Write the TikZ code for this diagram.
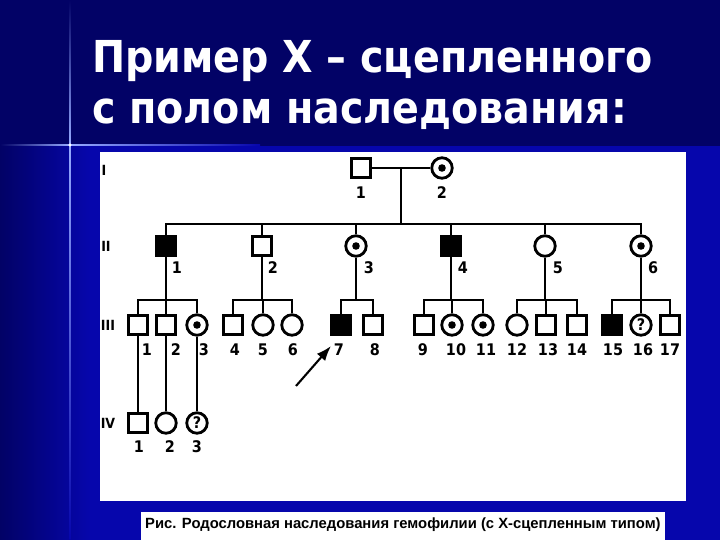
\documentclass[tikz,border=0pt]{standalone}
\usepackage{fontspec}
\newfontfamily\headfont{DejaVu Sans Condensed}
\newfontfamily\capfont{Liberation Sans}
\usepackage{tikz}
\usetikzlibrary{arrows.meta}
\definecolor{slidenavy}{RGB}{2,2,102}
\definecolor{slideblue}{RGB}{6,6,172}
\definecolor{flare}{RGB}{150,170,255}
\tikzstyle{person} = [draw,
                      line width=2.3pt,
                      inner sep=0pt]
\tikzstyle{male}   = [person, rectangle, minimum size=19pt]
\tikzstyle{female} = [person, circle, line width=2.8pt, minimum size=20.5pt]
\tikzstyle{ill}    = [fill=black]
\tikzstyle{carrier}= [female,
                      path picture={\fill[black] (path picture bounding box.center) circle (3.8pt);}]
\tikzstyle{unknown}= [female, font=\headfont\bfseries\fontsize{16}{16}\selectfont]
\tikzstyle{num}    = [inner sep=0pt, font=\headfont\bfseries\fontsize{16}{16}\selectfont]
\tikzstyle{gen}    = [inner sep=0pt, font=\headfont\bfseries\fontsize{14}{14}\selectfont]
\tikzstyle{title}  = [inner sep=0pt, text=white, font=\headfont\bfseries\fontsize{44}{44}\selectfont]
\tikzstyle{line}   = [line width=2.1pt]
\tikzstyle{arrow}  = [-{Latex[length=15pt,width=11pt]},
                      line width=2.1pt]

\begin{document}
\begin{tikzpicture}[x=1pt,y=-1pt]

  % Slide
  \fill[slidenavy] (0,0) rectangle (720,540);
  \fill[slideblue] (0,146) rectangle (720,540);
  \shade[left color=slidenavy, right color=slideblue] (0,146) rectangle (90,540);
  \shade[top color=slidenavy, bottom color=flare] (69.4,0) rectangle (70.6,145);
  \shade[top color=flare, bottom color=slideblue] (69.4,145) rectangle (70.6,540);
  \shade[left color=slidenavy, right color=flare] (0,144.4) rectangle (70,145.6);
  \shade[left color=flare, right color=slideblue] (70,144.4) rectangle (260,145.6);
  \fill[white] (70,145) circle (1.6pt);
  \fill[white] (100,152) rectangle (686,501);
  \fill[white] (141,512) rectangle (665,540);

  % Titles
  \node[title, anchor=base west] (title1) at (92,73) {Пример X – сцепленного};
  \node[title, anchor=base west] (title2) at (92,124) {с полом наследования:};
  \node[anchor=base west, inner sep=0pt, font=\capfont\bfseries\fontsize{14.8}{15}\selectfont]
    (caption) at (145,528) {Рис. Родословная наследования гемофилии (с X-сцепленным типом)};

  % Generations
  \node[gen] (g1) at (104,170) {I};
  \node[gen] (g2) at (106,246) {II};
  \node[gen] (g3) at (108,325) {III};
  \node[gen] (g4) at (108,423) {IV};

  % Nodes
  \node[male] (i1) at (361,168) {};
  \node[carrier] (i2) at (442,168) {};

  \node[male, ill] (ii1) at (166,246) {};
  \node[male] (ii2) at (262,246) {};
  \node[carrier] (ii3) at (356,246) {};
  \node[male, ill] (ii4) at (451,246) {};
  \node[female] (ii5) at (545,246) {};
  \node[carrier] (ii6) at (641,246) {};

  \node[male] (iii1) at (138,325) {};
  \node[male] (iii2) at (166,325) {};
  \node[carrier] (iii3) at (197,325) {};
  \node[male] (iii4) at (233,325) {};
  \node[female] (iii5) at (263,325) {};
  \node[female] (iii6) at (292,325) {};
  \node[male, ill] (iii7) at (341,325) {};
  \node[male] (iii8) at (373,325) {};
  \node[male] (iii9) at (424,325) {};
  \node[carrier] (iii10) at (452,325) {};
  \node[carrier] (iii11) at (483,325) {};
  \node[female] (iii12) at (517,325) {};
  \node[male] (iii13) at (546,325) {};
  \node[male] (iii14) at (577,325) {};
  \node[male, ill] (iii15) at (612,325) {};
  \node[unknown] (iii16) at (641,325) {?};
  \node[male] (iii17) at (670,325) {};

  \node[male] (iv1) at (138,423) {};
  \node[female] (iv2) at (166,423) {};
  \node[unknown] (iv3) at (197,423) {?};

  % Numbers
  \node[num] (n1-1) at (361,193) {1};
  \node[num] (n1-2) at (442,193) {2};
  \foreach \n/\x in {1/177,2/273,3/369,4/463,5/558,6/653}
    \node[num] (n2-\n) at (\x,268) {\n};
  \foreach \n/\x in {1/147,2/176,3/204,4/235,5/263,6/293,7/339,8/375,9/423,
                     10/456,11/486,12/517,13/548,14/577,15/613,16/643,17/670}
    \node[num] (n3-\n) at (\x,350) {\n};
  \foreach \n/\x in {1/139,2/170,3/197}
    \node[num] (n4-\n) at (\x,447) {\n};

  % Edges
  \coordinate (m1) at (401,168);
  \coordinate (s2) at (401,224);
  \draw[line] (i1) -- (i2);
  \draw[line] (m1) -- (s2);
  \foreach \k in {1,...,6}
    \draw[line] (s2) -| (ii\k);

  \coordinate (f1) at (166,300);
  \coordinate (f2) at (262,300);
  \coordinate (f3) at (356,300);
  \coordinate (f4) at (451,300);
  \coordinate (f5) at (545,300);
  \coordinate (f6) at (641,300);
  \foreach \k in {1,...,6}
    \draw[line] (ii\k) -- (f\k);
  \foreach \k in {1,2,3}
    \draw[line] (f1) -| (iii\k);
  \foreach \k in {4,5,6}
    \draw[line] (f2) -| (iii\k);
  \foreach \k in {7,8}
    \draw[line] (f3) -| (iii\k);
  \foreach \k in {9,10,11}
    \draw[line] (f4) -| (iii\k);
  \foreach \k in {12,13,14}
    \draw[line] (f5) -| (iii\k);
  \foreach \k in {15,16,17}
    \draw[line] (f6) -| (iii\k);
  \foreach \k in {1,2,3}
    \draw[line] (iii\k) -- (iv\k);

  \coordinate (tail) at (296,386);
  \coordinate (head) at (331,346);
  \draw[arrow] (tail) -- (head);

\end{tikzpicture}
\end{document}
